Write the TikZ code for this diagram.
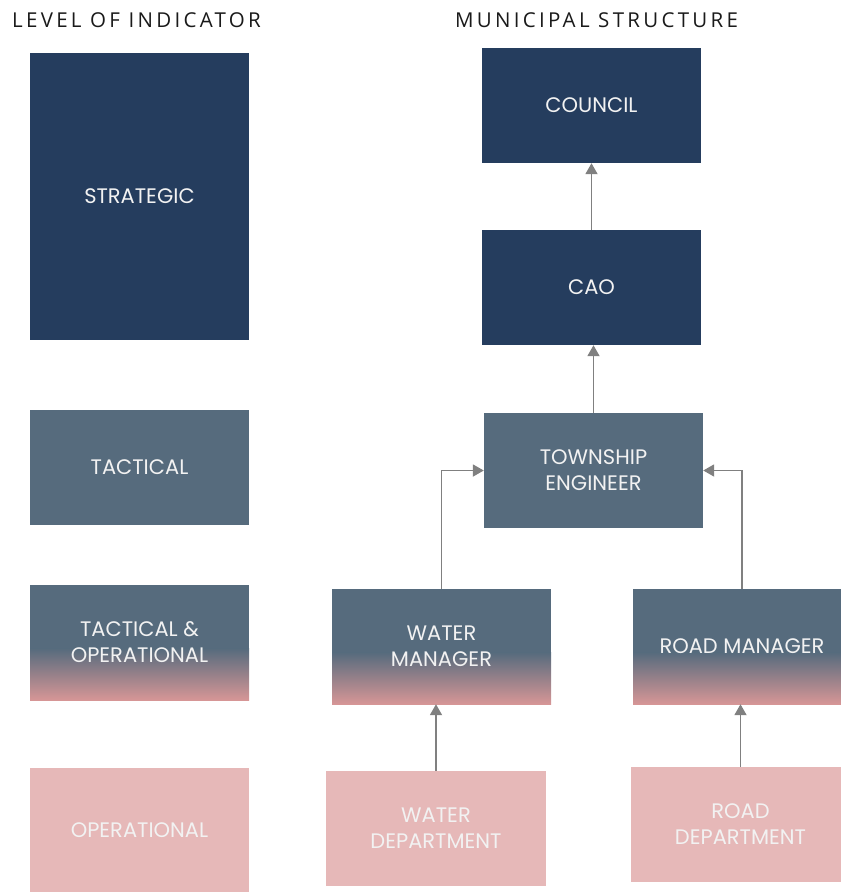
\documentclass[tikz,border=0pt]{standalone}
\usepackage{fontspec}
\setmainfont{Poppins}
\newfontfamily\headfont[LetterSpace=16]{Open Sans}
\usetikzlibrary{arrows.meta,calc}
\definecolor{navy}{HTML}{253D5E}
\definecolor{slate}{HTML}{566B7D}
\definecolor{rosebot}{HTML}{D69696}
\definecolor{pinkbox}{HTML}{E6B8B8}
\definecolor{txtw}{HTML}{F2F2F2}
\definecolor{arrg}{HTML}{808080}
\definecolor{headc}{HTML}{1A1A1A}
\tikzset{
  box/.style={rectangle, inner sep=0pt, minimum width=219pt, minimum height=115pt,
    text=txtw, align=center, font=\fontsize{21}{26}\selectfont},
  navybox/.style={box, fill=navy},
  slatebox/.style={box, fill=slate},
  pinkb/.style={box, fill=pinkbox},
  gradbox/.style={box, path picture={
      \fill[slate] (path picture bounding box.north west) rectangle (path picture bounding box.south east);
      \shade[top color=slate, bottom color=rosebot]
        ($(path picture bounding box.south west)!0.45!(path picture bounding box.north west)$)
        rectangle (path picture bounding box.south east);
    }},
  conn/.style={draw=arrg, line width=1.8pt, -{Triangle[width=12pt,length=11pt]}},
  head/.style={font=\headfont\fontsize{20.5}{24}\selectfont, text=headc, inner sep=0pt}
}
\begin{document}
\begin{tikzpicture}[x=1pt,y=-1pt]
\useasboundingbox (0,0) rectangle (841,892);
% headers
\node[head, anchor=west] (h1) at (12,20) {LEVEL OF INDICATOR};
\node[head, anchor=west] (h2) at (455,20) {MUNICIPAL STRUCTURE};
% left column
\node[navybox, minimum height=287pt] (strat) at (139.5,196.5) {STRATEGIC};
\node[slatebox] (tact) at (139.5,467) {TACTICAL};
\node[gradbox] (tacop) at (139.5,642.5) {TACTICAL \&\\OPERATIONAL};
\node[pinkb, minimum height=124pt] (oper) at (139.5,830) {OPERATIONAL};
% structure
\node[navybox] (council) at (591.5,105.5) {COUNCIL};
\node[navybox] (cao) at (591.5,287.5) {CAO};
\node[slatebox] (te) at (593.5,470.5) {TOWNSHIP\\ENGINEER};
\node[gradbox] (wm) at (441.5,646.5) {WATER\\MANAGER};
\node[gradbox, minimum width=218pt] (rm) at (742,646.5) {ROAD MANAGER};
\node[pinkb, minimum width=220pt] (wd) at (436,828.5) {WATER\\DEPARTMENT};
\node[pinkb] (rd) at (740.5,824.5) {ROAD\\DEPARTMENT};
% connectors
\draw[conn] (cao.north) -- (council.south);
\draw[conn] (te.north) -- (cao.south -| te.north);
\draw[conn] (wm.north) |- (te.west);
\draw[conn] (rm.north) |- (te.east);
\draw[conn] (wd.north) -- (wm.south -| wd.north);
\draw[conn] (rd.north) -- (rm.south -| rd.north);
\end{tikzpicture}
\end{document}
